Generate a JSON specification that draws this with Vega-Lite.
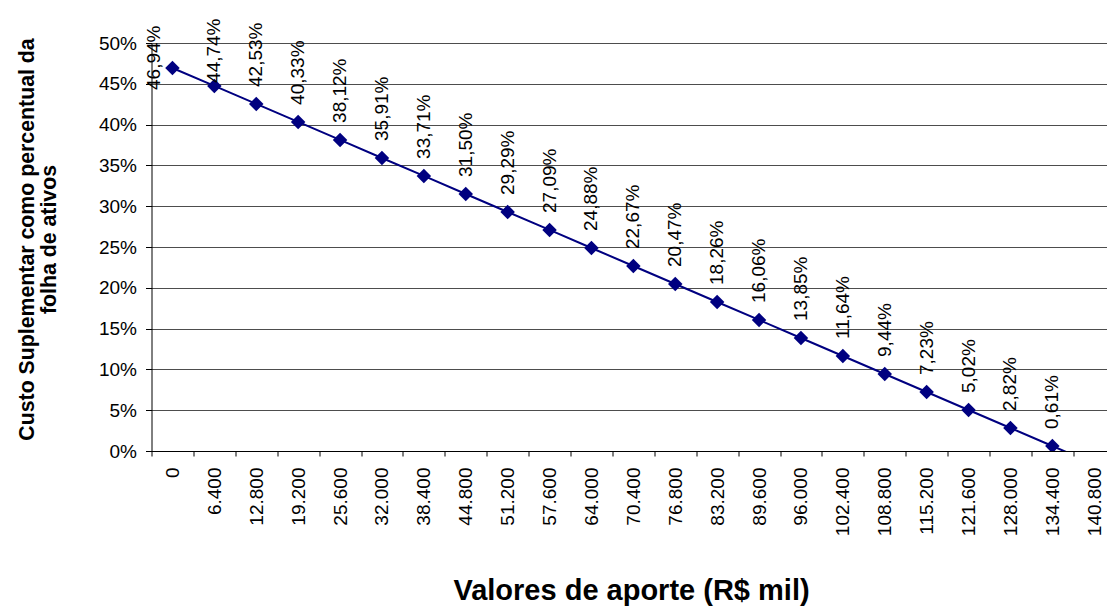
{
  "$schema": "https://vega.github.io/schema/vega-lite/v6.json",
  "width": 955,
  "height": 408,
  "autosize": {"type": "none"},
  "padding": {"left": 151.5, "top": 43, "right": 0, "bottom": 155},
  "background": "white",
  "config": {
    "locale": {"number": {"decimal": ",", "thousands": ".", "grouping": [3], "currency": ["R$", ""]}},
    "view": {"stroke": null},
    "font": "Liberation Sans"
  },
  "data": {
    "values": [
      {"aporte": 0, "custo": 0.4694},
      {"aporte": 6400, "custo": 0.4474},
      {"aporte": 12800, "custo": 0.4253},
      {"aporte": 19200, "custo": 0.4033},
      {"aporte": 25600, "custo": 0.3812},
      {"aporte": 32000, "custo": 0.3591},
      {"aporte": 38400, "custo": 0.3371},
      {"aporte": 44800, "custo": 0.3150},
      {"aporte": 51200, "custo": 0.2929},
      {"aporte": 57600, "custo": 0.2709},
      {"aporte": 64000, "custo": 0.2488},
      {"aporte": 70400, "custo": 0.2267},
      {"aporte": 76800, "custo": 0.2047},
      {"aporte": 83200, "custo": 0.1826},
      {"aporte": 89600, "custo": 0.1606},
      {"aporte": 96000, "custo": 0.1385},
      {"aporte": 102400, "custo": 0.1164},
      {"aporte": 108800, "custo": 0.0944},
      {"aporte": 115200, "custo": 0.0723},
      {"aporte": 121600, "custo": 0.0502},
      {"aporte": 128000, "custo": 0.0282},
      {"aporte": 134400, "custo": 0.0061},
      {"aporte": 140800, "custo": -0.0160}
    ]
  },
  "encoding": {
    "x": {
      "field": "aporte",
      "type": "ordinal",
      "sort": null,
      "scale": {"type": "band", "range": [0, 963.7], "paddingInner": 0, "paddingOuter": 0},
      "axis": {
        "title": "Valores de aporte (R$ mil)",
        "labelAngle": 270,
        "labelAlign": "right",
        "labelBaseline": "middle",
        "labelExpr": "isValid(datum.value) ? format(datum.value, ',') : ''",
        "tickBand": "extent",
        "tickSize": 5,
        "tickColor": "black",
        "domainColor": "black",
        "labelFontSize": 19,
        "labelColor": "black",
        "labelPadding": 11,
        "titleFontSize": 29,
        "titleFontWeight": "bold",
        "titleColor": "black",
        "titleX": 479.5,
        "titleY": 148,
        "titleBaseline": "alphabetic",
        "grid": false
      }
    },
    "y": {
      "field": "custo",
      "type": "quantitative",
      "scale": {"domain": [0, 0.5], "nice": false},
      "axis": {
        "format": ".0%",
        "values": [0, 0.05, 0.1, 0.15, 0.2, 0.25, 0.3, 0.35, 0.4, 0.45, 0.5],
        "title": ["Custo Suplementar como percentual da", "folha de ativos"],
        "titleFontSize": 21.3,
        "titleFontWeight": "bold",
        "titleColor": "black",
        "titleAngle": 270,
        "titleX": -118.5,
        "titleY": 196,
        "titleAlign": "center",
        "titleBaseline": "alphabetic",
        "titleLineHeight": 22,
        "grid": true,
        "gridColor": "#4d4d4d",
        "gridOpacity": 1,
        "tickSize": 6,
        "tickColor": "black",
        "domainColor": "black",
        "labelFontSize": 19,
        "labelColor": "black",
        "labelPadding": 9
      }
    }
  },
  "layer": [
    {"mark": {"type": "line", "color": "#000080", "strokeWidth": 2, "clip": true}},
    {"mark": {"type": "point", "shape": "diamond", "filled": true, "size": 210, "color": "#000080", "opacity": 1, "clip": true}},
    {
      "transform": [{"filter": "datum.custo >= 0 && datum.custo < 0.44"}],
      "mark": {"type": "text", "angle": 270, "align": "left", "baseline": "middle", "dx": 17, "fontSize": 19, "color": "black"},
      "encoding": {"text": {"field": "custo", "type": "quantitative", "format": ".2%"}}
    },
    {
      "transform": [{"filter": "datum.custo > 0.44 && datum.custo < 0.46"}],
      "mark": {"type": "text", "angle": 270, "align": "left", "baseline": "middle", "dx": 3, "fontSize": 19, "color": "black"},
      "encoding": {"text": {"field": "custo", "type": "quantitative", "format": ".2%"}}
    },
    {
      "transform": [{"filter": "datum.custo > 0.46"}],
      "mark": {"type": "text", "angle": 270, "align": "left", "baseline": "middle", "dx": -22, "dy": -18, "fontSize": 19, "color": "black"},
      "encoding": {"text": {"field": "custo", "type": "quantitative", "format": ".2%"}}
    }
  ]
}
